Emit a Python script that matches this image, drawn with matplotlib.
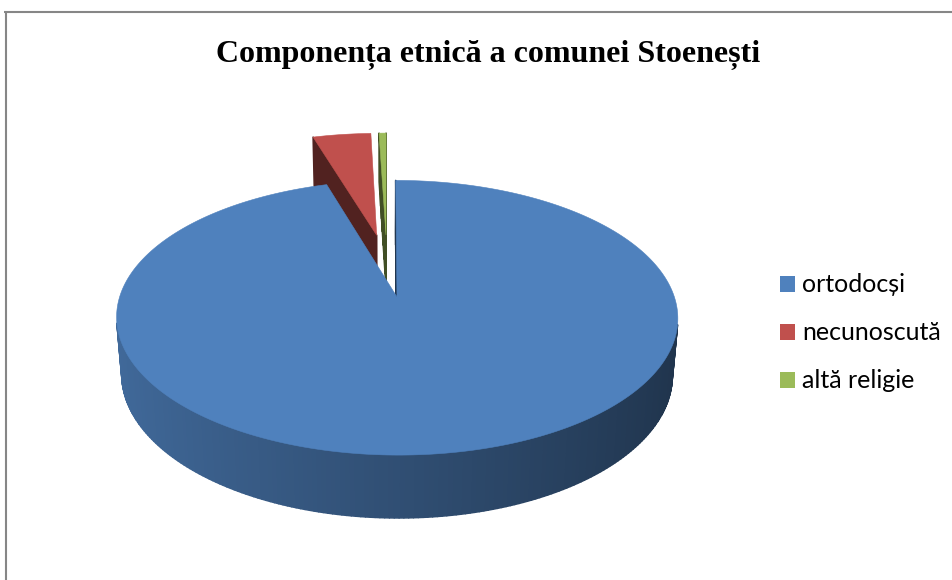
import numpy as np
import matplotlib.pyplot as plt
from matplotlib.patches import Polygon, Rectangle

# ---- data ----
categories = ['ortodocși', 'necunoscută', 'altă religie']
values = [95.4, 4.1, 0.5]
colors = ['#4F81BD', '#C0504D', '#9BBB59']
title = 'Componența etnică a comunei Stoenești'

W, HPX = 953, 580
fig = plt.figure(figsize=(W / 100, HPX / 100), dpi=100)
ax = fig.add_axes([0, 0, 1, 1])
ax.set_xlim(0, W)
ax.set_ylim(HPX, 0)
ax.axis('off')

# ---- 3D perspective projection parameters ----
phi = np.radians(27.8)
cphi, sphi = np.cos(phi), np.sin(phi)
DIST = 6.077
FOC = 1625
CX, CY = 387, 265
DEPTH = 0.237
EXPLODE = 0.25
CAM = np.array([0.0, DIST * sphi, -DIST * cphi])


def proj(x, h, z):
    d = DIST - h * sphi + z * cphi
    s = FOC / d
    return CX + x * s, CY - (h * cphi + z * sphi) * s, d


def shade(c, f):
    r, g, b = [int(c[i:i + 2], 16) / 255 for i in (1, 3, 5)]
    return (r * f, g * f, b * f)


walls = []
tops = []
total = float(sum(values))
start = 0.0
for val, col in zip(values, colors):
    a1 = start
    a2 = start + val / total * 2 * np.pi
    start = a2
    mid = (a1 + a2) / 2
    ox, oz = EXPLODE * np.sin(mid), EXPLODE * np.cos(mid)
    n = max(2, int((a2 - a1) / 0.015))
    th = np.linspace(a1, a2, n + 1)
    # outer curved wall
    for k in range(n):
        t0, t1 = th[k], th[k + 1]
        tm = (t0 + t1) / 2
        P = np.array([ox + np.sin(tm), -DEPTH / 2, oz + np.cos(tm)])
        nrm = np.array([np.sin(tm), 0, np.cos(tm)])
        if np.dot(nrm, CAM - P) <= 0:
            continue
        pts3 = [(ox + np.sin(t0), 0, oz + np.cos(t0)), (ox + np.sin(t1), 0, oz + np.cos(t1)),
                (ox + np.sin(t1), -DEPTH, oz + np.cos(t1)), (ox + np.sin(t0), -DEPTH, oz + np.cos(t0))]
        pr = [proj(*p) for p in pts3]
        dep = np.mean([p[2] for p in pr])
        f = 0.61 - 0.21 * np.sin(tm)
        walls.append((dep, [(p[0], p[1]) for p in pr], shade(col, f)))
    # radial walls
    for ang, nrm in ((a1, np.array([-np.cos(a1), 0, np.sin(a1)])),
                     (a2, np.array([np.cos(a2), 0, -np.sin(a2)]))):
        P = np.array([ox + 0.5 * np.sin(ang), -DEPTH / 2, oz + 0.5 * np.cos(ang)])
        if np.dot(nrm, CAM - P) <= 0:
            continue
        m = 8
        rr = np.linspace(0, 1, m + 1)
        for k in range(m):
            r0, r1 = rr[k], rr[k + 1]
            pts3 = [(ox + r0 * np.sin(ang), 0, oz + r0 * np.cos(ang)),
                    (ox + r1 * np.sin(ang), 0, oz + r1 * np.cos(ang)),
                    (ox + r1 * np.sin(ang), -DEPTH, oz + r1 * np.cos(ang)),
                    (ox + r0 * np.sin(ang), -DEPTH, oz + r0 * np.cos(ang))]
            pr = [proj(*p) for p in pts3]
            dep = np.mean([p[2] for p in pr])
            walls.append((dep, [(p[0], p[1]) for p in pr], shade(col, 0.42)))
    # top face
    pts = [proj(ox, 0, oz)[:2]] + [proj(ox + np.sin(t), 0, oz + np.cos(t))[:2]
                                     for t in np.linspace(a1, a2, max(3, n * 2))]
    tops.append((pts, col))

walls.sort(key=lambda w: -w[0])
for dep, pts, c in walls:
    ax.add_patch(Polygon(pts, closed=True, facecolor=c, edgecolor=c, linewidth=1.1,
                         joinstyle='round'))
for pts, c in tops:
    ax.add_patch(Polygon(pts, closed=True, facecolor=c, edgecolor=c, linewidth=0.4))

# ---- chart frame ----
ax.plot([4, W], [12, 12], color='#868686', lw=1.5, solid_capstyle='butt')
ax.plot([6, 6], [12, HPX], color='#868686', lw=1.5, solid_capstyle='butt')

# ---- title ----
ax.text(488, 55, title, ha='center', va='center', fontsize=23, fontweight='bold',
        family=['Liberation Serif', 'DejaVu Serif'])

# ---- legend ----
handles = [Rectangle((0, 0), 1, 1, facecolor=c, edgecolor='none') for c in colors]
leg = ax.legend(handles, categories, loc='upper left', bbox_to_anchor=(768 / W, 1 - 261 / HPX),
                frameon=False, handlelength=0.6, handleheight=0.6,
                handletextpad=0.26, labelspacing=1.0, borderpad=0,
                prop={'family': 'Lato', 'size': 18})

fig.savefig('out.png', dpi=100)
